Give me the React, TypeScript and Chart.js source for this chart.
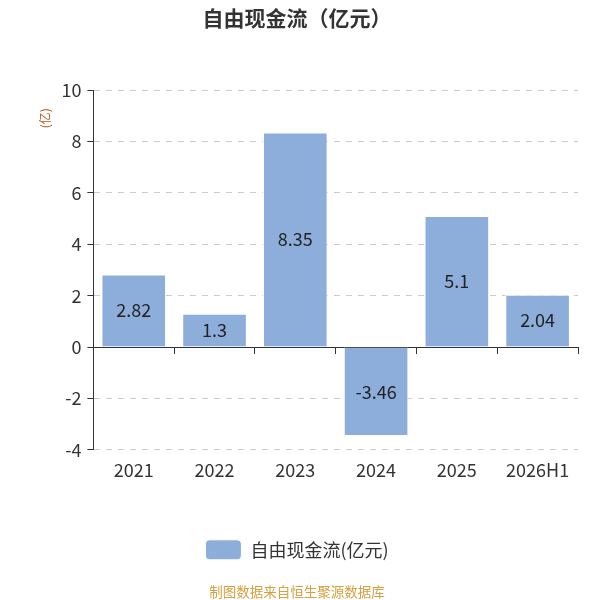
import { useEffect, useRef } from 'react';
import { Chart, registerables } from 'chart.js';

Chart.register(...registerables);

const years = ['2021', '2022', '2023', '2024', '2025', '2026H1'];
const freeCashFlow = [2.82, 1.3, 8.35, -3.46, 5.1, 2.04];
const seriesName = '自由现金流(亿元)';
const chartTitle = '自由现金流（亿元）';
const unitLabel = '(亿)';
const footerText = '制图数据来自恒生聚源数据库';

const FONT = "'Noto Sans CJK SC', 'Noto Sans', sans-serif";

// value labels in the middle of each bar
const barLabels = {
  id: 'barLabels',
  afterDatasetsDraw(chart: any) {
    const { ctx } = chart;
    const meta = chart.getDatasetMeta(0);
    ctx.save();
    ctx.font = `18px ${FONT}`;
    ctx.fillStyle = '#222';
    ctx.textAlign = 'center';
    ctx.textBaseline = 'middle';
    meta.data.forEach((bar: any, i: number) => {
      const { x, y, base } = bar.getProps(['x', 'y', 'base'], true);
      ctx.fillText(String(freeCashFlow[i]), x, (y + base) / 2);
    });
    ctx.restore();
  },
};

// unit name sits a little below the top of the y axis
const unitName = {
  id: 'unitName',
  afterDraw(chart: any) {
    const { ctx, chartArea } = chart;
    const y = chart.scales.y;
    ctx.save();
    ctx.translate(y.left + 29, chartArea.top + 28);
    ctx.rotate(-Math.PI / 2);
    ctx.font = `12px ${FONT}`;
    ctx.fillStyle = '#c0501a';
    ctx.textAlign = 'center';
    ctx.textBaseline = 'middle';
    ctx.fillText(unitLabel, 0, 0);
    ctx.restore();
  },
};

export default function App() {
  const canvasRef = useRef<HTMLCanvasElement | null>(null);

  useEffect(() => {
    document.body.style.margin = '0';
    if (!canvasRef.current) return;
    const chart = new Chart(canvasRef.current, {
      type: 'bar',
      data: {
        labels: years,
        datasets: [
          {
            label: seriesName,
            data: freeCashFlow,
            backgroundColor: '#8daddb',
            borderColor: '#ffffff',
            borderWidth: 1,
            barPercentage: 0.8,
            categoryPercentage: 1,
          },
        ],
      },
      plugins: [barLabels, unitName],
      options: {
        animation: false,
        responsive: true,
        maintainAspectRatio: false,
        layout: { padding: { left: 16, right: 22, top: 3, bottom: 0 } },
        plugins: {
          title: {
            display: true,
            text: chartTitle,
            color: '#333',
            font: { family: FONT, size: 21, weight: 'bold' },
            padding: { top: 2, bottom: 60 },
          },
          subtitle: {
            display: true,
            position: 'bottom',
            text: footerText,
            color: '#d4a040',
            font: { family: FONT, size: 13.5 },
            padding: { top: 14, bottom: 0 },
          },
          legend: {
            position: 'bottom',
            labels: {
              color: '#333',
              font: { family: FONT, size: 18 },
              boxWidth: 36,
              boxHeight: 20,
              useBorderRadius: true,
              borderRadius: 4,
              padding: 10,
            },
          },
          tooltip: { enabled: false },
        },
        scales: {
          x: {
            grid: { display: false },
            border: { display: false },
            ticks: { color: '#333', font: { family: FONT, size: 18 }, padding: 2 },
            afterFit: (scale: any) => {
              scale.height = 80;
            },
          },
          x2: {
            type: 'category',
            labels: years,
            position: { y: 0 },
            offset: true,
            grid: {
              offset: true,
              drawOnChartArea: false,
              drawTicks: true,
              tickLength: 6,
              color: '#333',
            },
            border: { display: true, color: '#333', width: 1 },
            ticks: { display: false },
          },
          y: {
            min: -4,
            max: 10,
            ticks: {
              stepSize: 2,
              color: '#333',
              font: { family: FONT, size: 18 },
              padding: 6,
            },
            grid: {
              color: (c: any) => (c.tick && c.tick.value === 0 ? 'rgba(0,0,0,0)' : '#cccccc'),
              tickColor: '#333',
              tickLength: 6,
              tickBorderDash: [],
            },
            border: { display: true, color: '#333', dash: [6, 6] },
            title: {
              display: true,
              text: unitLabel,
              color: 'rgba(0,0,0,0)',
              font: { family: FONT, size: 12 },
              padding: { top: 20, bottom: 5 },
            },
          },
        },
      },
    });
    return () => chart.destroy();
  }, []);

  return (
    <div style={{ width: 600, height: 600 }}>
      <canvas ref={canvasRef} />
    </div>
  );
}
